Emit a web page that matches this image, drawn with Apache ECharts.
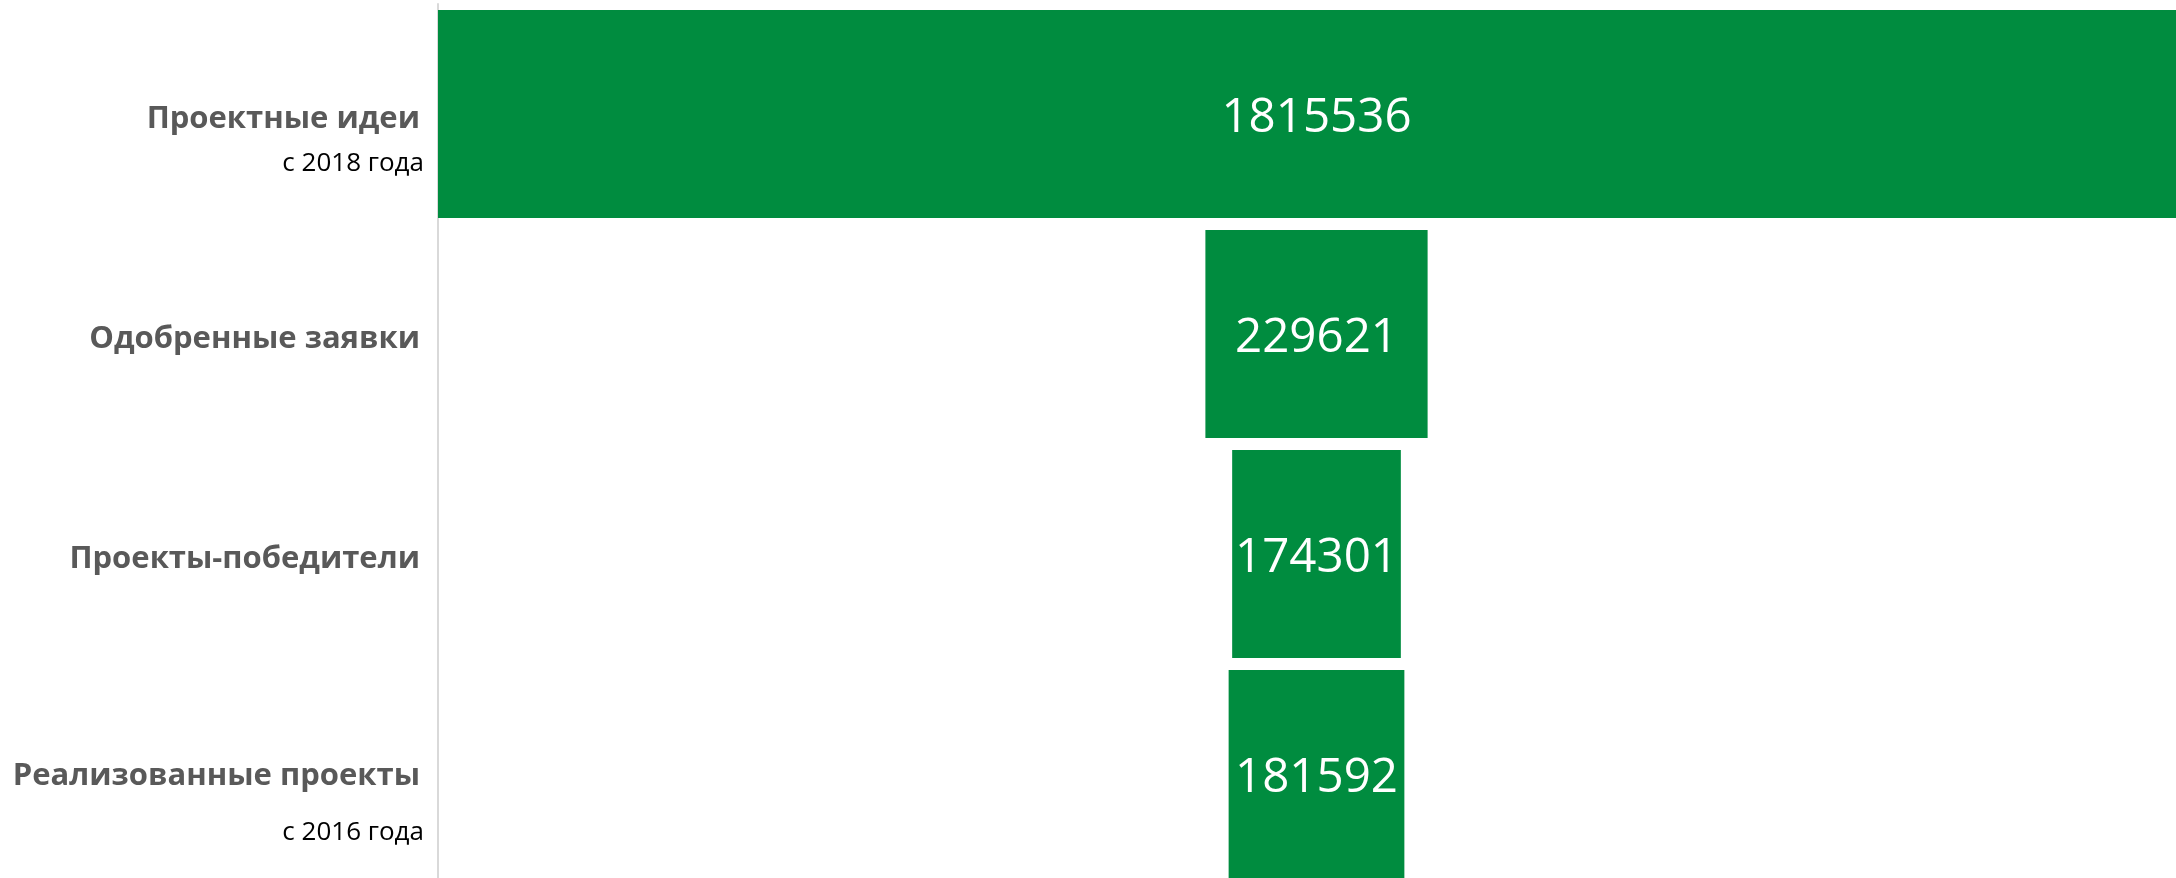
<!DOCTYPE html>
<html>
<head>
<meta charset="utf-8">
<title>Воронка проектов</title>
<script src="https://cdn.jsdelivr.net/npm/echarts@6/dist/echarts.min.js"></script>
<style>
    html, body {
        margin: 0;
        padding: 0;
        background: #ffffff;
    }
    #funnel {
        width: 2176px;
        height: 878px;
    }
</style>
</head>
<body>
<div id="funnel"></div>
<script>
    const categories = ['Проектные идеи', 'Одобренные заявки', 'Проекты-победители', 'Реализованные проекты'];
    const subtitles = ['с 2018 года', '', '', 'с 2016 года'];
    const values = [1815536, 229621, 174301, 181592];

    // invisible offset so each bar sits centered under the widest one
    const maxValue = Math.max(...values);
    const offsets = values.map(v => (maxValue - v) / 2);

    // which rich style pair each label uses (first and last subtitles sit at different distances)
    const labelStyle = ['a', 'a', 'a', 'b'];

    const myChart = echarts.init(document.getElementById('funnel'));

    const option = {
        animation: false,
        grid: {
            top: 4,
            bottom: -6,
            left: 438,
            right: -19,
            outerBoundsMode: 'none'
        },
        xAxis: {
            type: 'value',
            min: 0,
            max: maxValue,
            show: false
        },
        yAxis: {
            type: 'category',
            inverse: true,
            data: categories,
            axisTick: { show: false },
            axisLine: {
                lineStyle: {
                    color: '#d9d9d9',
                    width: 2
                }
            },
            axisLabel: {
                margin: 14,
                formatter: function (value, index) {
                    const s = labelStyle[index];
                    return '{top_' + s + '|}\n{main|' + value + '}\n{sub_' + s + '|' + subtitles[index] + '}';
                },
                rich: {
                    top_a: { height: 60, lineHeight: 60 },
                    sub_a: {
                        fontFamily: 'Open Sans',
                        fontSize: 26,
                        color: '#000000',
                        lineHeight: 50,
                        align: 'right'
                    },
                    top_b: { height: 78, lineHeight: 78 },
                    sub_b: {
                        fontFamily: 'Open Sans',
                        fontSize: 26,
                        color: '#000000',
                        lineHeight: 74,
                        align: 'right'
                    },
                    main: {
                        fontFamily: 'Open Sans',
                        fontWeight: 'bold',
                        fontSize: 31,
                        color: '#595959',
                        lineHeight: 40,
                        align: 'right',
                        padding: [0, 4, 0, 0]
                    }
                }
            }
        },
        series: [
            {
                type: 'bar',
                stack: 'funnel',
                data: offsets,
                itemStyle: { color: 'transparent' },
                barCategoryGap: '5.45%',
                silent: true
            },
            {
                type: 'bar',
                stack: 'funnel',
                data: values,
                itemStyle: { color: '#008c3f' },
                barCategoryGap: '5.45%',
                label: {
                    show: true,
                    position: 'inside',
                    offset: [0, 4],
                    color: '#ffffff',
                    fontFamily: 'Open Sans',
                    fontSize: 47.5
                }
            }
        ]
    };

    myChart.setOption(option);
</script>
</body>
</html>
